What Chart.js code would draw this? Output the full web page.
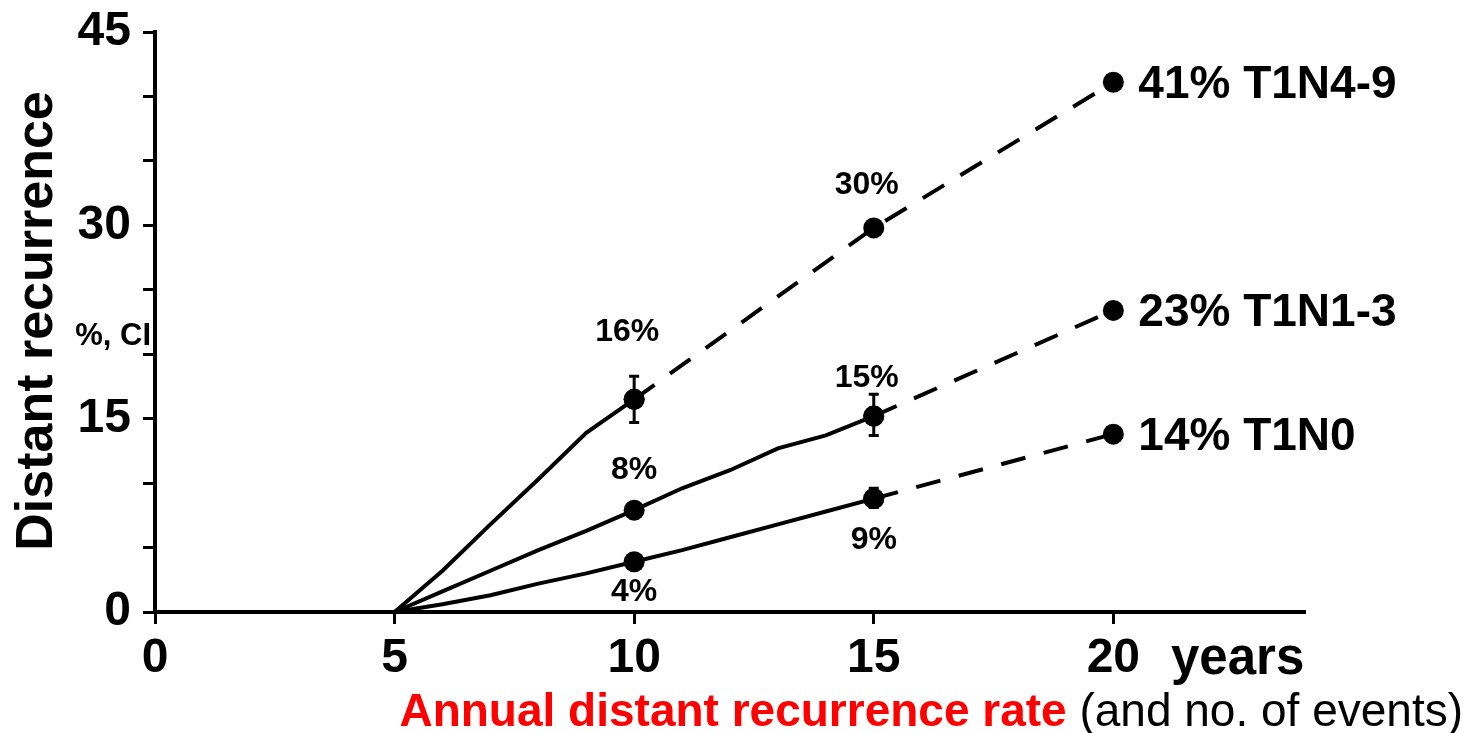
<!DOCTYPE html>
<html>
<head>
<meta charset="utf-8">
<script src="https://cdn.jsdelivr.net/npm/chart.js@4/dist/chart.umd.min.js"></script>
<style>
  html, body { margin: 0; padding: 0; background: #fff; }
  #wrap { width: 1469px; height: 733px; position: relative; }
</style>
</head>
<body>
<div id="wrap"><canvas id="chart"></canvas></div>
<script>
// Distant recurrence by nodal status — cumulative %, years 5 to 20

const FONT = "'Liberation Sans', Arial, Helvetica, sans-serif";

// solid segments (observed)
const n49Years = [5, 6, 7, 8, 9, 10];
const n49Solid = [0, 3.2, 6.8, 10.3, 13.9, 16.5];
const n13Years = [5, 6, 7, 8, 9, 10, 11, 12, 13, 14, 15];
const n13Solid = [0, 1.6, 3.2, 4.8, 6.3, 7.9, 9.6, 11.0, 12.7, 13.7, 15.2];
const n0Years = [5, 6, 7, 8, 9, 10, 11, 12, 13, 14, 15];
const n0Solid = [0, 0.6, 1.3, 2.2, 3.0, 3.9, 4.8, 5.8, 6.8, 7.8, 8.8];

// dashed segments (projected)
const n49DashYears = [10, 15, 20];
const n49Dash = [16.5, 29.8, 41.1];
const n13DashYears = [15, 20];
const n13Dash = [15.2, 23.4];
const n0DashYears = [15, 20];
const n0Dash = [8.8, 13.8];

// years that carry a dot
const markedYears = [10, 15, 20];

// confidence intervals
const ciYear = [10, 10, 15, 10, 15];
const ciLow = [14.7, 7.3, 13.7, 3.6, 8.1];
const ciHigh = [18.3, 8.5, 16.9, 4.2, 9.6];

// value labels next to dots
const pctText = ['16%', '30%', '8%', '15%', '4%', '9%'];
const pctYear = [10, 15, 10, 15, 10, 15];
const pctValue = [16.5, 29.8, 7.9, 15.2, 3.9, 8.8];

// end-of-line labels
const endText = ['41% T1N4-9', '23% T1N1-3', '14% T1N0'];
const endValue = [41.1, 23.4, 13.8];

const xTicks = [0, 5, 10, 15, 20];
const yLabelled = [0, 15, 30, 45];

// label offsets in px (style only)
const pctDx = [-7, -7, 0, -7, 0, 0];
const pctDy = [-67, -43, -40, -38, 30, 42];

function pts(xs, ys) {
  return xs.map((x, i) => ({ x, y: ys[i] }));
}

function dotRadius(ctx) {
  const p = ctx.raw;
  return p && markedYears.includes(p.x) ? 10.5 : 0;
}

function lineSet(data, dashed) {
  return {
    data,
    borderColor: '#000',
    borderWidth: 4,
    borderDash: dashed ? [25, 19] : [],
    pointRadius: dotRadius,
    pointHoverRadius: dotRadius,
    pointBackgroundColor: '#000',
    pointBorderWidth: 0,
    tension: 0,
    fill: false,
    clip: false,
  };
}

const extras = {
  id: 'extras',
  afterDatasetsDraw(chart) {
    const { ctx, scales: { x, y } } = chart;
    ctx.save();

    // error bars
    ctx.strokeStyle = '#000';
    ctx.lineWidth = 3;
    ctx.lineCap = 'butt';
    ciYear.forEach((yr, i) => {
      const px = x.getPixelForValue(yr);
      const lo = y.getPixelForValue(ciLow[i]);
      const hi = y.getPixelForValue(ciHigh[i]);
      ctx.beginPath();
      ctx.moveTo(px, lo);
      ctx.lineTo(px, hi);
      ctx.moveTo(px - 5, lo);
      ctx.lineTo(px + 5, lo);
      ctx.moveTo(px - 5, hi);
      ctx.lineTo(px + 5, hi);
      ctx.stroke();
    });

    ctx.fillStyle = '#000';
    ctx.textBaseline = 'middle';

    // % labels at dots
    ctx.font = `bold 32px ${FONT}`;
    ctx.textAlign = 'center';
    pctText.forEach((t, i) => {
      ctx.fillText(t, x.getPixelForValue(pctYear[i]) + pctDx[i], y.getPixelForValue(pctValue[i]) + pctDy[i]);
    });

    // end labels
    ctx.font = `bold 46px ${FONT}`;
    ctx.textAlign = 'left';
    endText.forEach((t, i) => {
      ctx.fillText(t, x.getPixelForValue(20) + 25, y.getPixelForValue(endValue[i]) + 3);
    });

    // y axis title
    ctx.save();
    ctx.translate(38, 321);
    ctx.rotate(-Math.PI / 2);
    ctx.textAlign = 'center';
    ctx.font = `bold 52px ${FONT}`;
    ctx.fillText('Distant recurrence', 0, 0);
    ctx.restore();

    ctx.textAlign = 'right';
    ctx.font = `bold 31px ${FONT}`;
    ctx.fillText('%, CI', 151, 336);

    // "years"
    ctx.textAlign = 'left';
    ctx.font = `bold 51px ${FONT}`;
    ctx.fillText('years', 1171, 660);

    // bottom caption
    const red = 'Annual distant recurrence rate';
    const rest = ' (and no. of events)';
    ctx.font = `46px ${FONT}`;
    const restW = ctx.measureText(rest).width;
    ctx.font = `bold 46px ${FONT}`;
    const redW = ctx.measureText(red).width;
    const startX = 1463 - restW - redW;
    ctx.fillStyle = '#ff0000';
    ctx.fillText(red, startX, 713);
    ctx.fillStyle = '#000';
    ctx.font = `46px ${FONT}`;
    ctx.fillText(rest, startX + redW, 713);

    ctx.restore();
  }
};

new Chart(document.getElementById('chart'), {
  type: 'line',
  data: {
    datasets: [
      lineSet(pts(n49Years, n49Solid), false),
      lineSet(pts(n13Years, n13Solid), false),
      lineSet(pts(n0Years, n0Solid), false),
      lineSet(pts(n49DashYears, n49Dash), true),
      lineSet(pts(n13DashYears, n13Dash), true),
      lineSet(pts(n0DashYears, n0Dash), true),
    ]
  },
  options: {
    responsive: true,
    maintainAspectRatio: false,
    animation: false,
    events: [],
    layout: { padding: { top: 32, right: 164, bottom: 31, left: 0 } },
    plugins: { legend: { display: false }, tooltip: { enabled: false } },
    scales: {
      x: {
        type: 'linear',
        min: 0,
        max: 24,
        afterFit: s => { s.height = 90; s.paddingLeft = 0; s.paddingRight = 0; },
        afterBuildTicks: s => { s.ticks = xTicks.map(v => ({ value: v })); },
        ticks: {
          color: '#000',
          font: { family: FONT, size: 48, weight: 'bold' },
          padding: 6,
          maxRotation: 0,
        },
        grid: { drawOnChartArea: false, drawTicks: true, tickLength: 12, tickWidth: 3, tickColor: '#000' },
        border: { color: '#000', width: 4 },
      },
      y: {
        type: 'linear',
        min: 0,
        max: 45,
        afterFit: s => { s.width = 155; s.paddingTop = 0; s.paddingBottom = 0; },
        ticks: {
          stepSize: 5,
          color: '#000',
          font: { family: FONT, size: 48, weight: 'bold' },
          padding: 12,
          callback: v => (yLabelled.includes(v) ? v : ''),
        },
        grid: { drawOnChartArea: false, drawTicks: true, tickLength: 12, tickWidth: 3, tickColor: '#000' },
        border: { color: '#000', width: 4 },
      }
    }
  },
  plugins: [extras]
});
</script>
</body>
</html>
